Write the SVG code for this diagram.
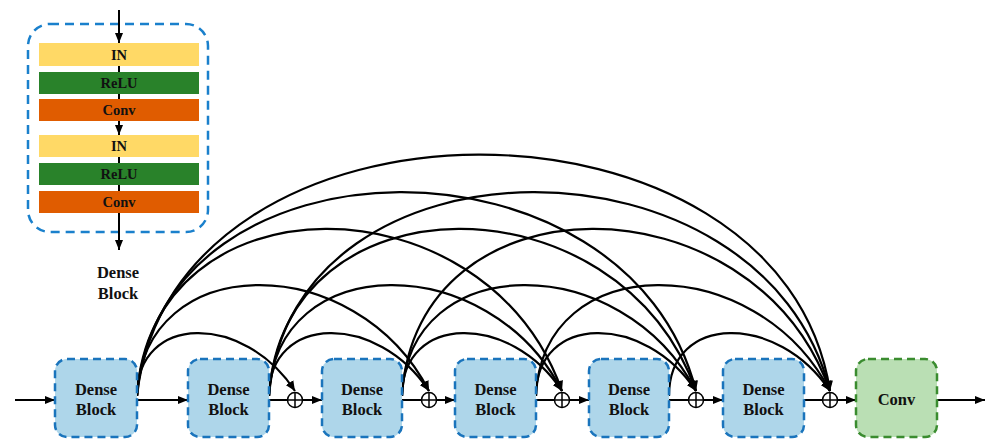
<svg xmlns="http://www.w3.org/2000/svg" width="990" height="439" viewBox="0 0 990 439">
<defs>
<style>
.blk{fill:#AED6EA;stroke:#1A74BC;stroke-width:2.5;stroke-dasharray:8 5}
.cnv{fill:#BADFB4;stroke:#3A8C2F;stroke-width:2.5;stroke-dasharray:8 5}
.t{font-family:"Liberation Serif","Times New Roman",serif;font-weight:bold;fill:#111;text-anchor:middle}
.bt{font-size:16.5px}
.st{font-size:14.5px}
.ln{stroke:#000;stroke-width:2;fill:none}
.arc{stroke:#000;stroke-width:2.2;fill:none;marker-end:url(#ah)}
.pl{stroke:#000;stroke-width:1.5;fill:#fff}
</style>
<marker id="ah" markerUnits="userSpaceOnUse" markerWidth="10" markerHeight="9" refX="10" refY="4.5" orient="auto" viewBox="0 0 10 9">
<path d="M0,0 L10,4.5 L0,9 z" fill="#000"/>
</marker>
<marker id="ar" markerUnits="userSpaceOnUse" markerWidth="10" markerHeight="8" refX="10" refY="4" orient="auto" viewBox="0 0 10 8">
<path d="M0,0 L10,4 L0,8 z" fill="#000"/>
</marker>
</defs>
<rect width="990" height="439" fill="#fff"/>

<g id="dense-block-detail">
<rect x="28" y="24" width="180" height="208" rx="22" fill="none" stroke="#1A80CC" stroke-width="2.5" stroke-dasharray="9 6"/>
<line class="ln" x1="119" y1="10" x2="119" y2="43" marker-end="url(#ar)"/>
<line class="ln" x1="119" y1="66" x2="119" y2="135" marker-end="url(#ar)"/>
<line class="ln" x1="119" y1="157" x2="119" y2="250" marker-end="url(#ar)"/>
<rect x="39" y="43" width="160" height="23" fill="#FFD966"/>
<text class="t st" x="119" y="60">IN</text>
<rect x="39" y="72" width="160" height="22" fill="#29822A"/>
<text class="t st" x="119" y="88">ReLU</text>
<rect x="39" y="99" width="160" height="22" fill="#E05C00"/>
<text class="t st" x="119" y="115">Conv</text>
<rect x="39" y="135" width="160" height="22" fill="#FFD966"/>
<text class="t st" x="119" y="151">IN</text>
<rect x="39" y="163" width="160" height="22" fill="#29822A"/>
<text class="t st" x="119" y="179">ReLU</text>
<rect x="39" y="191" width="160" height="22" fill="#E05C00"/>
<text class="t st" x="119" y="207">Conv</text>
<text class="t bt" x="118" y="278">Dense</text>
<text class="t bt" x="118" y="299">Block</text>
</g>

<g id="connectors">
<line class="ln" x1="15" y1="400" x2="55" y2="400" marker-end="url(#ar)"/>
<line class="ln" x1="137" y1="400" x2="188" y2="400" marker-end="url(#ar)"/>
<line class="ln" x1="269" y1="400" x2="322" y2="400" marker-end="url(#ar)"/>
<line class="ln" x1="402" y1="400" x2="455" y2="400" marker-end="url(#ar)"/>
<line class="ln" x1="536" y1="400" x2="589" y2="400" marker-end="url(#ar)"/>
<line class="ln" x1="669" y1="400" x2="723" y2="400" marker-end="url(#ar)"/>
<line class="ln" x1="804" y1="400" x2="856" y2="400" marker-end="url(#ar)"/>
<line class="ln" x1="937" y1="400" x2="985" y2="400" marker-end="url(#ar)"/>

<path class="arc" d="M137,396 C137,313 244,313 295,391"/>
<path class="arc" d="M269,396 C269,313 378,313 429,391"/>
<path class="arc" d="M402,396 C402,313 511,313 562,391"/>
<path class="arc" d="M536,396 C536,313 645,313 696,391"/>
<path class="arc" d="M669,396 C669,313 778,313 830,391"/>

<path class="arc" d="M137,396 C143,249 356,249 429,391"/>
<path class="arc" d="M269,396 C275,249 489,249 562,391"/>
<path class="arc" d="M402,396 C408,249 622,249 696,391"/>
<path class="arc" d="M536,396 C542,249 756,249 830,391"/>

<path class="arc" d="M137,396 C150,174 485,174 562,391"/>
<path class="arc" d="M269,396 C282,174 619,174 696,391"/>
<path class="arc" d="M402,396 C415,174 753,174 830,391"/>

<path class="arc" d="M137,396 C159,125 629,125 696,391"/>
<path class="arc" d="M269,396 C291,125 763,125 830,391"/>

<path class="arc" d="M137,396 C172,75 781,75 830,391"/>
</g>

<g id="add1"><circle class="pl" cx="295" cy="400" r="7.5"/><path class="ln" style="stroke-width:1.5" d="M287.5,400 H302.5 M295,392.5 V407.5"/></g>
<g id="add2"><circle class="pl" cx="429" cy="400" r="7.5"/><path class="ln" style="stroke-width:1.5" d="M421.5,400 H436.5 M429,392.5 V407.5"/></g>
<g id="add3"><circle class="pl" cx="562" cy="400" r="7.5"/><path class="ln" style="stroke-width:1.5" d="M554.5,400 H569.5 M562,392.5 V407.5"/></g>
<g id="add4"><circle class="pl" cx="696" cy="400" r="7.5"/><path class="ln" style="stroke-width:1.5" d="M688.5,400 H703.5 M696,392.5 V407.5"/></g>
<g id="add5"><circle class="pl" cx="830" cy="400" r="7.5"/><path class="ln" style="stroke-width:1.5" d="M822.5,400 H837.5 M830,392.5 V407.5"/></g>

<g id="block1"><rect class="blk" x="55" y="359" width="82" height="78" rx="12"/><text class="t bt" x="96" y="395">Dense</text><text class="t bt" x="96" y="415">Block</text></g>
<g id="block2"><rect class="blk" x="188" y="359" width="81" height="78" rx="12"/><text class="t bt" x="228.5" y="395">Dense</text><text class="t bt" x="228.5" y="415">Block</text></g>
<g id="block3"><rect class="blk" x="322" y="359" width="80" height="78" rx="12"/><text class="t bt" x="362" y="395">Dense</text><text class="t bt" x="362" y="415">Block</text></g>
<g id="block4"><rect class="blk" x="455" y="359" width="81" height="78" rx="12"/><text class="t bt" x="495.5" y="395">Dense</text><text class="t bt" x="495.5" y="415">Block</text></g>
<g id="block5"><rect class="blk" x="589" y="359" width="80" height="78" rx="12"/><text class="t bt" x="629" y="395">Dense</text><text class="t bt" x="629" y="415">Block</text></g>
<g id="block6"><rect class="blk" x="723" y="359" width="81" height="78" rx="12"/><text class="t bt" x="763.5" y="395">Dense</text><text class="t bt" x="763.5" y="415">Block</text></g>
<g id="conv"><rect class="cnv" x="856" y="359" width="81" height="78" rx="12"/><text class="t bt" x="896.5" y="405">Conv</text></g>
</svg>
